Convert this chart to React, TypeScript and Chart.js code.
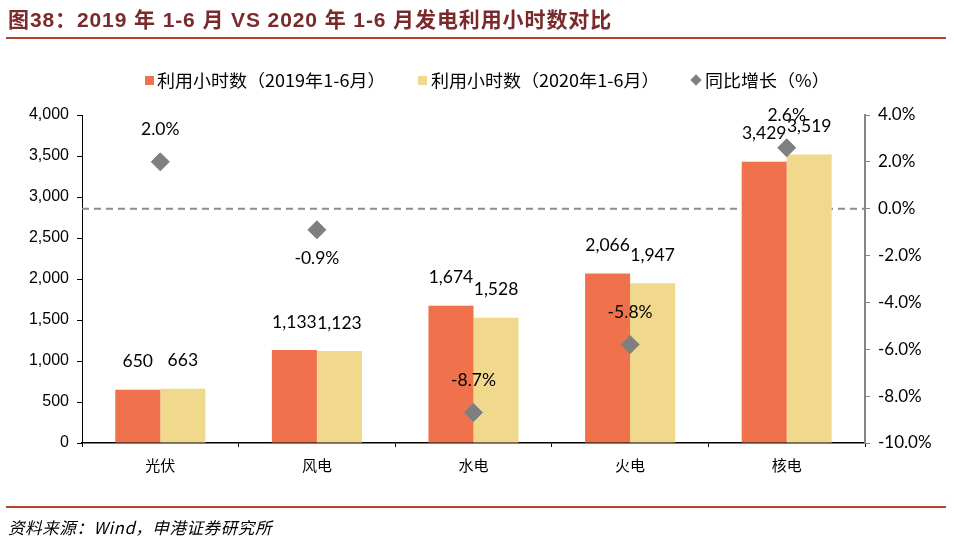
import React, { useEffect, useRef } from "react";
import { Chart, registerables } from "chart.js";

Chart.register(...registerables);

const categories = ["光伏", "风电", "水电", "火电", "核电"];
const hours2019 = [650, 1133, 1674, 2066, 3429];
const hours2020 = [663, 1123, 1528, 1947, 3519];
const yoyPct = [2.0, -0.9, -8.7, -5.8, 2.6];
const yoyLabelSide = ["above", "below", "above", "above", "above"];
const leftTicks = { min: 0, max: 4000, step: 500 };
const rightTicks = { min: -10, max: 4, step: 2 };

const ORANGE = "#EF724C";
const YELLOW = "#F0D98C";
const GRAY = "#7F7F7F";
const NUM_FONT = '17.5px Lato, "Liberation Sans", sans-serif';
const CJK = '"Noto Sans CJK SC", "Liberation Sans", sans-serif';

const zeroLinePlugin = {
  id: "zeroLine",
  beforeDatasetsDraw(chart: any) {
    const { ctx, chartArea } = chart;
    const y = chart.scales.y1.getPixelForValue(0);
    ctx.save();
    ctx.strokeStyle = "#8C8C8C";
    ctx.lineWidth = 2;
    ctx.setLineDash([7, 5]);
    ctx.beginPath();
    ctx.moveTo(chartArea.left, y);
    ctx.lineTo(chartArea.right, y);
    ctx.stroke();
    ctx.restore();
  },
};

const labelPlugin = {
  id: "valueLabels",
  afterDatasetsDraw(chart: any) {
    const ctx = chart.ctx;
    ctx.save();
    ctx.font = NUM_FONT;
    ctx.fillStyle = "#000";
    ctx.textAlign = "center";
    ctx.textBaseline = "middle";
    [0, 1].forEach((di) => {
      const meta = chart.getDatasetMeta(di);
      meta.data.forEach((el: any, i: number) => {
        const v = chart.data.datasets[di].data[i] as number;
        ctx.fillText(v.toLocaleString("en-US"), el.x, el.y - 28);
      });
    });
    const m = chart.getDatasetMeta(2);
    m.data.forEach((el: any, i: number) => {
      const dy = yoyLabelSide[i] === "below" ? 29 : -32;
      ctx.fillText(yoyPct[i].toFixed(1) + "%", el.x, el.y + dy);
    });
    ctx.restore();
  },
};

export default function App() {
  const ref = useRef<HTMLCanvasElement>(null);

  useEffect(() => {
    document.body.style.margin = "0";
    const chart = new Chart(ref.current as HTMLCanvasElement, {
      type: "bar",
      data: {
        labels: categories,
        datasets: [
          {
            type: "bar",
            label: "利用小时数（2019年1-6月）",
            data: hours2019,
            backgroundColor: ORANGE,
            yAxisID: "y",
            categoryPercentage: 0.575,
            barPercentage: 1,
            order: 2,
          },
          {
            type: "bar",
            label: "利用小时数（2020年1-6月）",
            data: hours2020,
            backgroundColor: YELLOW,
            yAxisID: "y",
            categoryPercentage: 0.575,
            barPercentage: 1,
            order: 2,
          },
          {
            type: "line",
            label: "同比增长（%）",
            data: yoyPct,
            yAxisID: "y1",
            showLine: false,
            pointStyle: "rectRot",
            pointRadius: 9,
            pointBackgroundColor: GRAY,
            pointBorderColor: GRAY,
            borderColor: GRAY,
            backgroundColor: GRAY,
            order: 1,
          } as any,
        ],
      },
      options: {
        responsive: false,
        animation: false,
        layout: { padding: { left: 0, right: 0, top: 115, bottom: 0 } },
        plugins: {
          legend: { display: false },
          tooltip: { enabled: false },
          title: { display: false },
        },
        scales: {
          x: {
            grid: { display: true, drawOnChartArea: false, offset: true, tickLength: 4, color: "#000" },
            border: { color: "#000", width: 1.5 },
            ticks: { color: "#000", font: { family: CJK, size: 15 }, padding: 9 },
            afterFit: (s: any) => {
              s.height = 100;
            },
          },
          y: {
            position: "left",
            min: leftTicks.min,
            max: leftTicks.max,
            grid: { drawOnChartArea: false, tickLength: 5, color: "#000" },
            border: { color: "#000", width: 1 },
            ticks: {
              stepSize: leftTicks.step,
              color: "#000",
              padding: 8,
              font: { family: '"Liberation Sans", Arial, sans-serif', size: 16 },
              callback: (v: any) => Number(v).toLocaleString("en-US"),
            },
            afterFit: (s: any) => {
              s.width = 82;
            },
          },
          y1: {
            position: "right",
            min: rightTicks.min,
            max: rightTicks.max,
            grid: { drawOnChartArea: false, tickLength: 5, color: "#868686" },
            border: { color: "#868686", width: 2 },
            ticks: {
              stepSize: rightTicks.step,
              color: "#000",
              padding: 8,
              font: { family: 'Lato, "Liberation Sans", sans-serif', size: 17 },
              callback: (v: any) => Number(v).toFixed(1) + "%",
            },
            afterFit: (s: any) => {
              s.width = 89;
            },
          },
        },
      },
      plugins: [zeroLinePlugin, labelPlugin],
    });
    return () => chart.destroy();
  }, []);

  const legendText: React.CSSProperties = {
    position: "absolute",
    top: 69,
    fontFamily: CJK,
    fontSize: 17,
    color: "#000",
    whiteSpace: "nowrap",
    lineHeight: "22px",
    transform: "scaleX(1.06)",
    transformOrigin: "left center",
  };

  return (
    <div style={{ position: "fixed", left: 0, top: 0, width: 954, height: 543, background: "#fff" }}>
      <canvas ref={ref} width={954} height={543} style={{ position: "absolute", left: 0, top: 0 }} />
      <div
        style={{
          position: "absolute",
          left: 8,
          top: 6,
          fontFamily: '"Liberation Sans", "Noto Sans CJK SC", sans-serif',
          fontWeight: "bold",
          fontSize: 21,
          letterSpacing: 0.9,
          color: "#7A2A2A",
          whiteSpace: "nowrap",
          lineHeight: "28px",
        }}
      >
        图38：2019 年 1-6 月 VS 2020 年 1-6 月发电利用小时数对比
      </div>
      <div style={{ position: "absolute", left: 6, top: 37, width: 940, height: 2, background: "#B5452A" }} />
      <div style={{ position: "absolute", left: 145, top: 76, width: 9, height: 9, background: ORANGE }} />
      <div style={{ ...legendText, left: 157 }}>利用小时数（2019年1-6月）</div>
      <div style={{ position: "absolute", left: 418, top: 76, width: 9, height: 9, background: YELLOW }} />
      <div style={{ ...legendText, left: 431 }}>利用小时数（2020年1-6月）</div>
      <div
        style={{
          position: "absolute",
          left: 692,
          top: 76,
          width: 8,
          height: 8,
          background: GRAY,
          transform: "rotate(45deg)",
        }}
      />
      <div style={{ ...legendText, left: 705 }}>同比增长（%）</div>
      <div style={{ position: "absolute", left: 6, top: 506, width: 940, height: 1.5, background: "#B5452A" }} />
      <div
        style={{
          position: "absolute",
          left: 8,
          top: 516,
          fontFamily: CJK,
          fontStyle: "italic",
          fontSize: 16.5,
          letterSpacing: 0.6,
          color: "#000",
          whiteSpace: "nowrap",
          lineHeight: "22px",
        }}
      >
        资料来源：Wind，申港证券研究所
      </div>
    </div>
  );
}
